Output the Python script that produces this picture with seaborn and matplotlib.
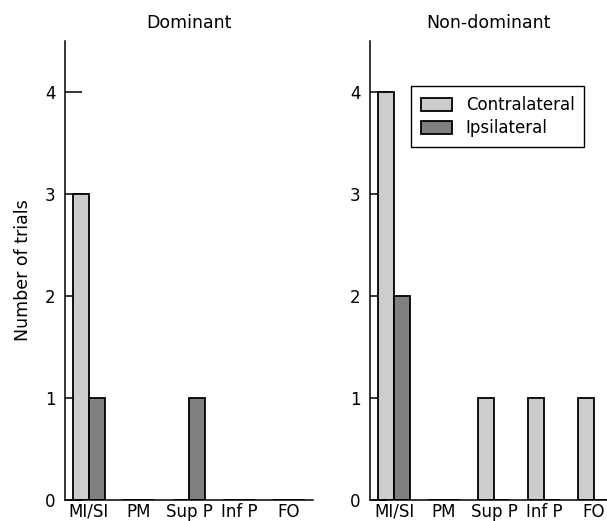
import matplotlib
matplotlib.use("Agg")
import matplotlib.pyplot as plt
import seaborn as sns
import pandas as pd

regions = ["MI/SI", "PM", "Sup P", "Inf P", "FO"]
sides = ["Contralateral", "Ipsilateral"]
dominant_contra = [3, 0, 0, 0, 0]
dominant_ipsi = [1, 0, 1, 0, 0]
nondominant_contra = [4, 0, 1, 1, 1]
nondominant_ipsi = [2, 0, 0, 0, 0]
panel_titles = ["Dominant", "Non-dominant"]
yticks = [0, 1, 2, 3, 4]

def make_df(contra, ipsi):
    rows = []
    for r, c, i in zip(regions, contra, ipsi):
        rows.append({"Region": r, "Side": sides[0], "Trials": c})
        rows.append({"Region": r, "Side": sides[1], "Trials": i})
    return pd.DataFrame(rows)

sns.set_style("white")
plt.rcParams["font.family"] = ["DejaVu Sans"]
plt.rcParams["text.color"] = "black"
plt.rcParams["axes.labelcolor"] = "black"
plt.rcParams["xtick.color"] = "black"
plt.rcParams["ytick.color"] = "black"

W, H = 607, 521
fig = plt.figure(figsize=(W / 100, H / 100), dpi=100)
bottom = (H - 500) / H
height = (500 - 41) / H
ax1 = fig.add_axes([65 / W, bottom, (313 - 65) / W, height])
ax2 = fig.add_axes([370 / W, bottom, (607 - 370) / W, height])

palette = {"Contralateral": "#cccccc", "Ipsilateral": "#808080"}

for ax, (contra, ipsi), title, xr in zip(
    [ax1, ax2],
    [(dominant_contra, dominant_ipsi), (nondominant_contra, nondominant_ipsi)],
    panel_titles,
    [4.48, 4.26],
):
    df = make_df(contra, ipsi)
    sns.barplot(data=df, x="Region", y="Trials", hue="Side", order=regions,
                hue_order=sides, palette=palette, width=0.64, gap=0,
                edgecolor="black", linewidth=1.3, ax=ax, legend=(ax is ax2),
                saturation=1)
    ax.set_xlim(-0.48, xr)
    ax.set_ylim(0, 4.5)
    ax.set_yticks(yticks)
    ax.set_xlabel("")
    ax.set_ylabel("")
    for s in ["top", "right"]:
        ax.spines[s].set_visible(False)
    for s in ["left", "bottom"]:
        ax.spines[s].set_color("black")
        ax.spines[s].set_linewidth(1.1)
    ax.tick_params(axis="y", direction="in", length=12, width=1.1, labelsize=12, pad=7, left=True)
    ax.tick_params(axis="x", length=0, labelsize=12, pad=2)
    ax.set_title(title, fontsize=12.5, pad=9, color="black")

ax1.set_ylabel("Number of trials", fontsize=12.5, color="black")
ax1.yaxis.set_label_coords(-0.135, 0.5)

leg = ax2.legend(loc="upper right", bbox_to_anchor=(0.94, 0.92), fontsize=12,
                 frameon=True, fancybox=False, edgecolor="black", framealpha=1,
                 handlelength=1.9, handleheight=0.8, borderpad=0.6, labelspacing=0.3)
leg.get_frame().set_linewidth(1.0)

fig.savefig("out.png", dpi=100)
